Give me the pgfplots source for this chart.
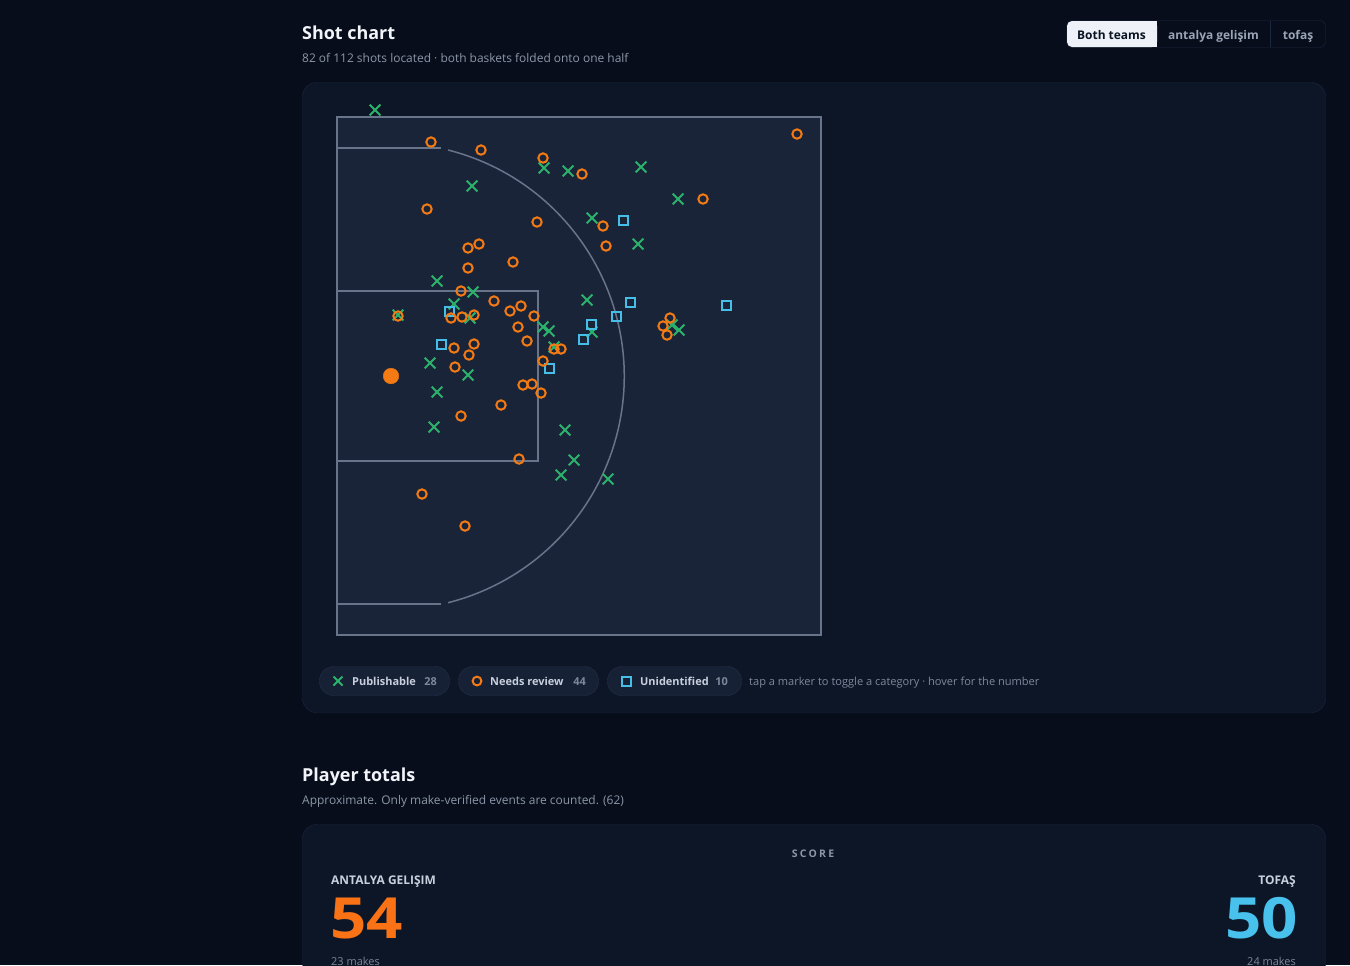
\documentclass[border=0pt]{standalone}
\usepackage{pgfplots}
\pgfplotsset{compat=1.18}
\usepackage{pgfplotstable}
\usepackage{fontspec}
\setmainfont{Open Sans}
\definecolor{pagebg}{HTML}{070D1A}
\definecolor{cardbg}{HTML}{0D1627}
\definecolor{cardborder}{HTML}{1C2740}
\definecolor{courtbg}{HTML}{1A2439}
\definecolor{courtline}{HTML}{67748A}
\definecolor{pubgreen}{HTML}{2BB36C}
\definecolor{revorange}{HTML}{F47A14}
\definecolor{unicyan}{HTML}{46BFE8}
\definecolor{titlewhite}{HTML}{F1F4F9}
\definecolor{subgrey}{HTML}{8C97A8}
\definecolor{pillbg}{HTML}{172136}
\definecolor{pillborder}{HTML}{243048}
\definecolor{pilltext}{HTML}{C7D0DC}
\definecolor{pillcount}{HTML}{7C889A}
\definecolor{togglebg}{HTML}{EEF2F8}
\definecolor{toggledark}{HTML}{0B1322}
\definecolor{togglegrey}{HTML}{9AA5B6}
\definecolor{scoreorange}{HTML}{F97316}
\definecolor{scorecyan}{HTML}{48C2EC}
\newcommand\fs[1]{\fontsize{#1}{#1}\selectfont}

% shot positions in screen pixels (x to the right, y downward)
\pgfplotstableread{
x y
375 110
472 186
544 168
568 171
641 167
678 199
592 218
638 244
437 281
473 292
454 304
398 315
470 318
587 300
543 327
549 331
592 332
554 347
430 363
468 375
437 392
434 427
565 430
574 460
561 475
608 479
679 330
672 325
}\pubtable

\pgfplotstableread{
x y
431 142
481 150
543 158
582 174
427 209
537 222
468 248
479 244
513 262
468 268
461 291
797 134
703 199
603 226
606 246
670 318
663 326
667 335
494 301
398 316
451 318
462 317
474 315
454 348
474 344
469 355
455 367
510 311
521 306
534 316
518 327
527 341
554 349
561 349
543 361
523 385
532 384
541 393
501 405
461 416
519 459
422 494
465 526
}\revtable

\pgfplotstableread{
x y
623 220
630 302
726 305
449 311
591 324
616 316
583 339
441 344
549 368
}\unitable

\pgfplotstableread{
x y
391 376
}\baskettable

\begin{document}
\begin{tikzpicture}[x=1bp,y=-1bp]
\clip (0,0) rectangle (1350,965);
\fill[pagebg] (0,0) rectangle (1350,965);

% header
\node[anchor=base west, inner sep=0, text=titlewhite, font=\fs{18}\bfseries] at (302,39) {Shot chart};
\node[anchor=base west, inner sep=0, text=subgrey, font=\fs{12}] at (302,62) {82 of 112 shots located · both baskets folded onto one half};

% toggle
\draw[cardborder, fill=pagebg, rounded corners=6] (1066.5,20.5) rectangle (1325.5,47.5);
\fill[togglebg, rounded corners=5] (1067,21) rectangle (1157,47);
\fill[togglebg] (1145,21) rectangle (1157,47);
\draw[cardborder] (1270,21) -- (1270,47);
\node[anchor=base, inner sep=0, text=toggledark, font=\fs{12}\bfseries] at (1111.5,39) {Both teams};
\node[anchor=base, inner sep=0, text=togglegrey, font=\fs{12}\bfseries] at (1213.5,39) {antalya gelişim};
\node[anchor=base, inner sep=0, text=togglegrey, font=\fs{12}\bfseries] at (1298,39) {tofaş};

% card
\draw[cardborder, fill=cardbg, rounded corners=14] (302.5,82.5) rectangle (1325.5,712.5);

% court
\fill[courtbg] (337,117) rectangle (821,635);
\begin{scope}[courtline, line width=1.5bp]
\draw (337,117) rectangle (821,635);
\draw (337,291) rectangle (538,461);
\draw (337,148) -- (441,148);
\draw (337,604) -- (441,604);
\draw (448,150) arc[start angle=-75.8, end angle=75.8, radius=233.5];
\end{scope}

\begin{axis}[at={(0,0)}, anchor=north west, width=1350bp, height=965bp,
  scale only axis, xmin=0, xmax=1350, ymin=0, ymax=965, y dir=reverse,
  hide axis, clip=false]
\addplot[only marks, mark=x, mark size=7.6bp, draw=pubgreen,
  mark options={line width=2bp, solid}] table {\pubtable};
\addplot[only marks, mark=square, mark size=4.5bp, draw=unicyan,
  mark options={line width=2bp, solid, fill=none}] table {\unitable};
\addplot[only marks, mark=o, mark size=4.7bp, draw=revorange,
  mark options={line width=2bp, solid, fill=none}] table {\revtable};
\addplot[only marks, mark=*, mark size=7.8bp, draw=revorange, fill=revorange] table {\baskettable};
\end{axis}

% legend pills
\begin{scope}
\draw[pillborder, fill=pillbg, rounded corners=14] (319.5,666.5) rectangle (449.5,695.5);
\draw[pillborder, fill=pillbg, rounded corners=14] (458.5,666.5) rectangle (598.5,695.5);
\draw[pillborder, fill=pillbg, rounded corners=14] (607.5,666.5) rectangle (741.5,695.5);
\draw[pubgreen, line width=2bp] (333.5,676.5) -- (342.5,685.5) (333.5,685.5) -- (342.5,676.5);
\draw[revorange, line width=2bp] (477,681) circle[radius=4.4];
\draw[unicyan, line width=2bp] (621.5,676.5) rectangle (630.5,685.5);
\node[anchor=base west, inner sep=0, text=pilltext, font=\fs{11}\bfseries] at (352,685) {Publishable};
\node[anchor=base east, inner sep=0, text=pillcount, font=\fs{11}\bfseries] at (437,685) {28};
\node[anchor=base west, inner sep=0, text=pilltext, font=\fs{11}\bfseries] at (490,685) {Needs review};
\node[anchor=base east, inner sep=0, text=pillcount, font=\fs{11}\bfseries] at (586,685) {44};
\node[anchor=base west, inner sep=0, text=pilltext, font=\fs{11}\bfseries] at (640,685) {Unidentified};
\node[anchor=base east, inner sep=0, text=pillcount, font=\fs{11}\bfseries] at (728,685) {10};
\node[anchor=base west, inner sep=0, text=pillcount, font=\fs{11.1}] at (749,685) {tap a marker to toggle a category · hover for the number};
\end{scope}

% player totals
\node[anchor=base west, inner sep=0, text=titlewhite, font=\fs{18}\bfseries] at (302,781) {Player totals};
\node[anchor=base west, inner sep=0, text=subgrey, font=\fs{12}] at (302,804) {Approximate. Only make-verified events are counted. (62)};
\draw[cardborder, fill=cardbg, rounded corners=14] (302.5,824.5) rectangle (1325.5,1000);
\node[anchor=base, inner sep=0, text=subgrey, font=\fs{10.5}\bfseries\addfontfeatures{LetterSpace=22}] at (813,857) {SCORE};
\node[anchor=base west, inner sep=0, text=pilltext, font=\fs{12}\bfseries] at (331,884) {ANTALYA GELIŞIM};
\node[anchor=base east, inner sep=0, text=pilltext, font=\fs{12}\bfseries] at (1296,884) {TOFAŞ};
\node[anchor=base west, inner sep=0, text=scoreorange, font=\fs{57}\bfseries\addfontfeatures{FakeStretch=1.12}] at (330,938) {54};
\node[anchor=base east, inner sep=0, text=scorecyan, font=\fs{57}\bfseries\addfontfeatures{FakeStretch=1.12}] at (1298,938) {50};
\node[anchor=base west, inner sep=0, text=pillcount, font=\fs{11}] at (331,965) {23 makes};
\node[anchor=base east, inner sep=0, text=pillcount, font=\fs{11}] at (1296,965) {24 makes};
\end{tikzpicture}
\end{document}
